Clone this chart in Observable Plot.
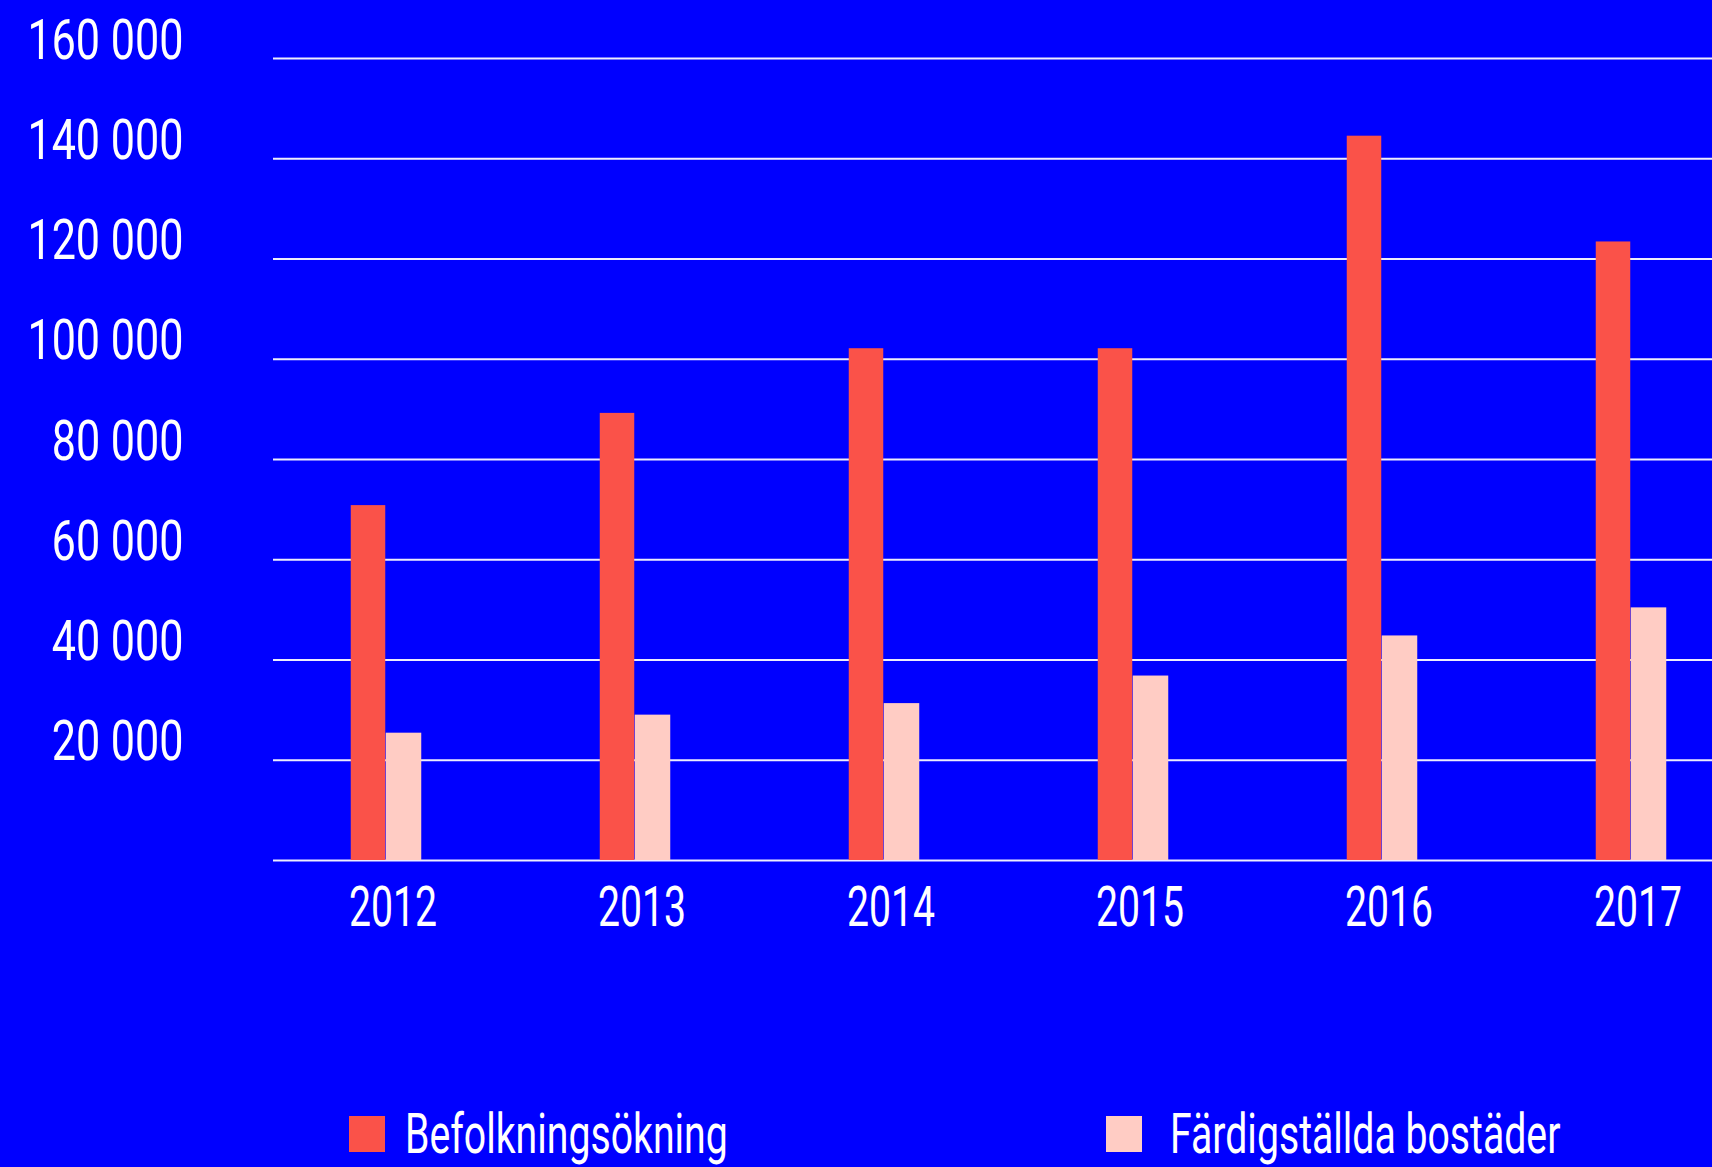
<!DOCTYPE html>
<html>
<head>
<meta charset="utf-8">
<script src="https://cdn.jsdelivr.net/npm/d3@7"></script>
<script src="https://cdn.jsdelivr.net/npm/@observablehq/plot@0.6"></script>
<style>
  html, body { margin: 0; padding: 0; background: #0000ff; width: 1712px; height: 1167px; overflow: hidden; }
  #chart { position: absolute; left: 0; top: 0; }
  #legend { position: absolute; top: 0; left: 0; font-family: Roboto, sans-serif; color: white; font-size: 56px; }
  .sw { position: absolute; width: 36px; height: 36px; top: 1116px; }
  .lt { position: absolute; top: 1106px; line-height: 56px; white-space: nowrap; transform-origin: 0 0; }
</style>
</head>
<body>
<div id="chart"></div>
<div id="legend"></div>
<script>
const years = ["2012", "2013", "2014", "2015", "2016", "2017"];
const befolkningsokning = [70800, 89200, 102100, 102100, 144500, 123400];
const fardigstallda = [25400, 29000, 31300, 36800, 44800, 50400];
const seriesNames = ["Befolkningsökning", "Färdigställda bostäder"];
const seriesColors = ["#fa5249", "#ffccc4"];
const yTicks = [0, 20000, 40000, 60000, 80000, 100000, 120000, 140000, 160000];

const data = years.map((y, i) => ({year: y, a: befolkningsokning[i], b: fardigstallda[i]}));
const fmt = v => d3.format(",")(v).replace(/,/g, " ");
const font = 'Roboto, sans-serif';

const chart = Plot.plot({
  width: 1712,
  height: 960,
  marginLeft: 273,
  marginRight: 0,
  marginTop: 58,
  marginBottom: 100,
  style: {background: "#0000ff", color: "white", fontFamily: font},
  x: {type: "band", domain: years, range: [259.25, 1756.25], padding: 0, label: null},
  y: {domain: [0, 160000], label: null},
  marks: [
    Plot.ruleY(yTicks, {stroke: "#ececff", strokeWidth: 2}),
    Plot.barY(data, {x: "year", y: "a", fill: seriesColors[0], insetLeft: 89.75, insetRight: 124.75}),
    Plot.barY(data, {x: "year", y: "b", fill: seriesColors[1], insetLeft: 124.75, insetRight: 88.75}),
    Plot.axisY(yTicks.filter(d => d > 0), {tickSize: 0, tickPadding: 90, lineAnchor: "bottom", tickFormat: fmt, fontSize: 56, fontWeight: 400, label: null, fill: "white"}),
    Plot.axisX({tickSize: 0, tickPadding: 26, dx: 7, fontSize: 56, fontWeight: 400, label: null, fill: "white"})
  ]
});
document.getElementById("chart").appendChild(chart);

// condense the text horizontally (narrow typeface look)
function condense(selector, s) {
  chart.querySelectorAll(selector).forEach(t => {
    const tr = t.getAttribute("transform") || "";
    t.setAttribute("transform", tr + ` scale(${s},1)`);
  });
}
condense('g[aria-label="y-axis tick label"] text', 0.77);
condense('g[aria-label="x-axis tick label"] text', 0.70);

const legend = document.getElementById("legend");
const swLeft = [349, 1106];
const txtLeft = [405, 1170];
seriesNames.forEach((name, i) => {
  const sw = document.createElement("div");
  sw.className = "sw";
  sw.style.left = swLeft[i] + "px";
  sw.style.background = seriesColors[i];
  const t = document.createElement("div");
  t.className = "lt";
  t.style.left = txtLeft[i] + "px";
  t.style.fontWeight = 400;
  t.style.transform = "scaleX(0.70)";
  t.textContent = name;
  legend.appendChild(sw);
  legend.appendChild(t);
});
</script>
</body>
</html>
